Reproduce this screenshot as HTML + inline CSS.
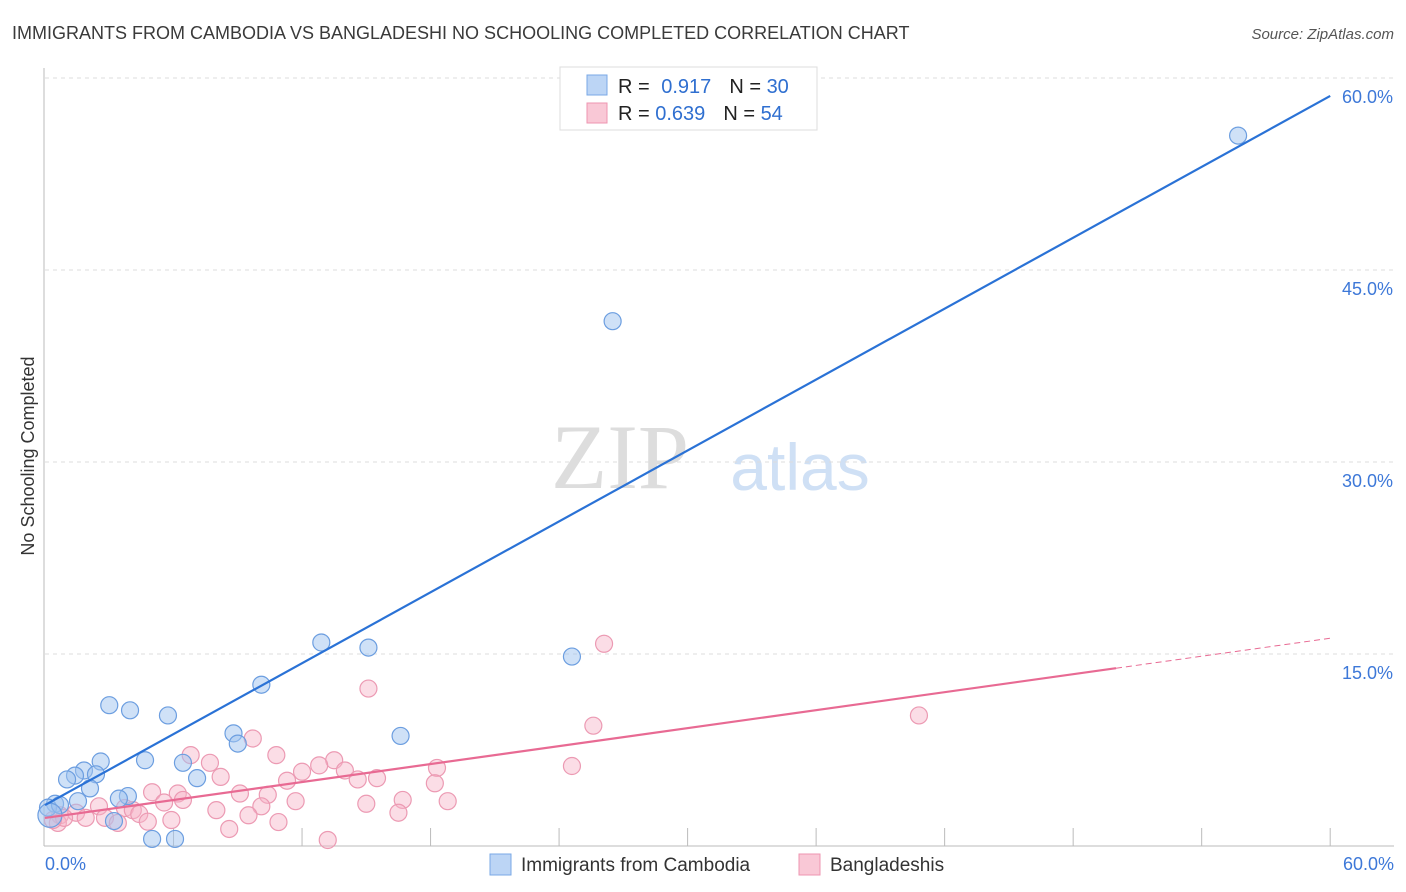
<!DOCTYPE html>
<html><head><meta charset="utf-8"><style>
body{margin:0;background:#fff;font-family:"Liberation Sans",sans-serif}
svg{display:block}
</style></head><body>
<svg id="c" width="1406" height="892">
<text x="12" y="39" font-size="18" fill="#3a3a3a">IMMIGRANTS FROM CAMBODIA VS BANGLADESHI NO SCHOOLING COMPLETED CORRELATION CHART</text>
<text x="1394" y="39" font-size="15" font-style="italic" fill="#555" text-anchor="end">Source: ZipAtlas.com</text>
<text x="620" y="488" font-size="92" fill="#ddd" font-family="Liberation Serif,serif" text-anchor="middle">ZIP</text>
<text x="800" y="490" font-size="66" fill="#cfe0f5" text-anchor="middle">atlas</text>
<text transform="translate(34,456) rotate(-90)" font-size="18" fill="#333" text-anchor="middle">No Schooling Completed</text>
<g id="grid"></g><g id="pts"></g><g id="lines"></g>
<g>
<rect x="560" y="67" width="257" height="63" fill="#fff" stroke="#ddd"/>
<rect x="587" y="75" width="20" height="20" fill="#bcd5f5" stroke="#7aa8e6"/>
<rect x="587" y="103" width="20" height="20" fill="#f9c8d6" stroke="#ee95b0"/>
<text x="618" y="93" font-size="20" fill="#222">R = <tspan fill="#2f6fd0" dx="6">0.917</tspan><tspan dx="18" fill="#222">N = </tspan><tspan fill="#2f6fd0">30</tspan></text>
<text x="618" y="120" font-size="20" fill="#222">R = <tspan fill="#2f6fd0">0.639</tspan><tspan dx="18" fill="#222">N = </tspan><tspan fill="#2f6fd0">54</tspan></text>
</g>
<g>
<rect x="490" y="854" width="21" height="21" fill="#bcd5f5" stroke="#7aa8e6"/>
<text x="521" y="871" font-size="19" fill="#333">Immigrants from Cambodia</text>
<rect x="799" y="854" width="21" height="21" fill="#f9c8d6" stroke="#ee95b0"/>
<text x="830" y="871" font-size="19" fill="#333">Bangladeshis</text>
</g>
</svg>
<script>
const yTicks=[15,30,45,60];
const xTickLabels=["0.0%","60.0%"];
const blueX=[55.7,26.5,12.9,15.1,24.6,10.1,3.0,3.97,5.74,8.8,9.0,16.6,2.6,4.67,6.44,1.82,2.38,1.4,1.03,7.1,2.1,3.87,3.45,1.54,0.47,0.14,0.7,3.22,5.0,6.07,0.23];
const blueY=[55.5,41.0,15.9,15.5,14.8,12.6,11.0,10.6,10.2,8.8,8.0,8.6,6.6,6.7,6.5,5.9,5.6,5.5,5.2,5.3,4.5,3.9,3.7,3.5,3.3,3.0,3.2,1.95,0.55,0.55,2.4];
const pinkX=[26.1,15.1,40.8,25.6,9.7,6.8,10.8,7.7,13.5,24.6,12.8,18.3,12.0,8.2,14.0,15.5,14.6,11.3,6.2,5.0,9.1,18.2,10.4,6.44,5.56,11.7,16.7,18.8,2.52,3.73,4.1,10.1,8.0,15.0,16.5,1.45,0.7,1.9,2.8,4.4,9.5,10.9,3.4,4.8,5.9,0.6,8.6,13.2,0.89,0.37];
const pinkY=[15.8,12.3,10.2,9.4,8.4,7.1,7.1,6.5,6.7,6.25,6.3,6.1,5.8,5.4,5.9,5.3,5.2,5.1,4.1,4.2,4.1,4.9,4.0,3.6,3.4,3.5,3.6,3.5,3.1,2.97,2.8,3.1,2.8,3.3,2.6,2.6,2.4,2.2,2.2,2.5,2.4,1.87,1.8,1.9,2.03,1.8,1.33,0.47,2.2,2.03];
const blueLine=[3.2,58.6];
const pinkLine=[2.19,0.234,50];
const X=v=>45+v*21.42, Y=v=>846-v*12.8;
const NS="http://www.w3.org/2000/svg";
function mk(t,a,p){const e=document.createElementNS(NS,t);for(const k in a)e.setAttribute(k,a[k]);p.appendChild(e);return e;}
const g=document.getElementById('grid');
yTicks.forEach(t=>{
 const l=mk('line',{x1:45,x2:1394,y1:Y(t),y2:Y(t),stroke:'#ddd','stroke-dasharray':'4,4'},g);
 
 
 const tx=mk('text',{x:1393,y:Y(t)+25,'font-size':18,fill:'#3d78d8','text-anchor':'end'},g);
 tx.textContent=t.toFixed(1)+'%';
 
 
});
const ax=mk('line',{x1:44,x2:44,y1:68,y2:846,stroke:'#bbb'},g);


const bx=mk('line',{x1:44,x2:1394,y1:846,y2:846,stroke:'#bbb'},g);


for(let t=6;t<=60;t+=6){const tk=mk('line',{x1:X(t),x2:X(t),y1:828,y2:846,stroke:'#bbb'},g);
 
 }
[[0,'start',45],[60,'end',1394]].forEach((d,i)=>{const tx=mk('text',{x:d[2],y:870,'font-size':18,fill:'#3d78d8','text-anchor':d[1]},g);
 tx.textContent=xTickLabels[i];
 
 });
const p=document.getElementById('pts');
pinkX.forEach((x,i)=>{const c=mk('circle',{cx:X(x),cy:Y(pinkY[i]),r:8.5,fill:'rgba(247,180,200,0.45)',stroke:'#ec9ab3','stroke-width':1.2},p);
 
 });
blueX.forEach((x,i)=>{const c=mk('circle',{cx:X(x),cy:Y(blueY[i]),r:i==30?12:8.5,fill:'rgba(160,195,240,0.5)',stroke:'#6c9ee0','stroke-width':1.2},p);
 
 });
const L=document.getElementById('lines');
const b=mk('line',{x1:X(0),y1:Y(blueLine[0]),x2:X(60),y2:Y(blueLine[1]),stroke:'#2a72d6','stroke-width':2.2},L);


const pe=pinkLine[2];
const pl=mk('line',{x1:X(0),y1:Y(pinkLine[0]),x2:X(pe),y2:Y(pinkLine[0]+pinkLine[1]*pe),stroke:'#e86a93','stroke-width':2.2},L);


const pd=mk('line',{x1:X(pe),y1:Y(pinkLine[0]+pinkLine[1]*pe),x2:X(60),y2:Y(pinkLine[0]+pinkLine[1]*60),stroke:'#e86a93','stroke-width':1,'stroke-dasharray':'6,4'},L);


</script>
</body></html>
